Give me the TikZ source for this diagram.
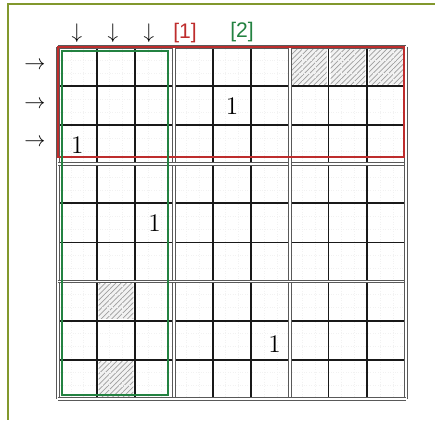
\documentclass[tikz,border=0pt]{standalone}
\usepackage{fontspec}
\newfontfamily\tagfont{Liberation Sans}
\usetikzlibrary{patterns}
\definecolor{frameolive}{RGB}{130,152,45}
\definecolor{boxred}{RGB}{190,45,45}
\definecolor{boxgreen}{RGB}{35,130,65}

\begin{document}
\begin{tikzpicture}[
			x=0.02cm, y=-0.02cm,
			cellline/.style  = {black!90, line width=1pt},
			blockline/.style = {black!65, double=white, double distance=0.9pt, line width=0.65pt},
			subline/.style   = {black!5, densely dotted, line width=0.4pt},
			hatch/.style     = {pattern=north east lines, pattern color=gray!75},
			num/.style       = {font=\Large, inner sep=1pt},
			marker/.style    = {font=\large, inner sep=0pt},
			tag/.style       = {font=\large\tagfont, inner sep=1pt}
			]
			\useasboundingbox (0,0) rectangle (435,420);

			% frame
			\draw[frameolive, line width=1pt] (435,4) -- (8,4) -- (8,420);

			% grid
			\begin{scope}[shift={(1.16cm,-0.94cm)}, x=0.7733cm, y=-0.782cm]
				% hatched cells
				\foreach \c/\r in {6/0, 7/0, 8/0, 1/6, 1/8} {
						\fill[gray!10] (\c+0.05,\r+0.05) rectangle (\c+0.95,\r+0.95);
						\fill[hatch] (\c+0.05,\r+0.05) rectangle (\c+0.95,\r+0.95);
					}

				% faint sub grid
				\foreach \i in {1,...,26} {
						\draw[subline] (\i/3,0) -- (\i/3,9);
						\draw[subline] (0,\i/3) -- (9,\i/3);
					}

				% cell lines
				\foreach \i in {1,2,4,5,7,8} {
						\draw[cellline] (\i,0) -- (\i,9);
						\draw[cellline] (0,\i) -- (9,\i);
					}

				% block lines
				\foreach \i in {0,3,6,9} {
						\draw[blockline] (\i,0) -- (\i,9);
						\draw[blockline] (0,\i) -- (9,\i);
					}

				% given numbers
				\node[num] (n31) at (0.5,2.5) {1};
				\node[num] (n25) at (4.5,1.5) {1};
				\node[num] (n53) at (2.5,4.5) {1};
				\node[num] (n86) at (5.6,7.6) {1};

				% regions
				\draw[boxred, line width=1.3pt] (0,0) rectangle (8.95,2.81);
				\draw[boxgreen, line width=1.3pt] (0.1,0.1) rectangle (2.84,8.9);
			\end{scope}

			% column markers
			\foreach \x [count=\k] in {77,113,149}
			\node[marker] (down\k) at (\x,33) {$\downarrow$};

			% row markers
			\foreach \y [count=\k] in {66,105,143}
			\node[marker] (right\k) at (35,\y) {$\rightarrow$};

			% region tags
			\node[tag, text=boxred] (tag1) at (185,33) {[1]};
			\node[tag, text=boxgreen] (tag2) at (242,32) {[2]};
		\end{tikzpicture}
\end{document}
